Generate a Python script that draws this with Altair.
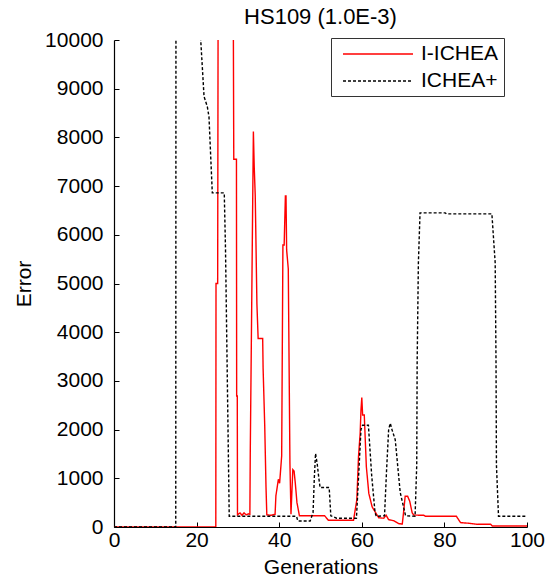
import altair as alt
import pandas as pd

series = ["I-ICHEA", "ICHEA+"]

# values past the top of the axis (off-scale, clipped) are given as 10200
gen_ichea = [0, 24.65, 24.7, 25.1, 25.2, 28.9, 29.0, 29.65, 29.7, 29.85, 29.9, 30.5, 31.0, 31.5, 32.0, 32.5,
             32.9, 33.0, 33.3, 33.6, 33.75, 33.95, 34.2, 34.35, 34.6, 34.9, 36.0, 36.1, 36.5, 36.8, 37.0, 38.0,
             39.0, 39.2, 39.8, 40.1, 40.6, 40.9, 41.2, 41.5, 41.65, 41.8, 42.2, 42.6, 42.85, 43.0, 43.3, 43.6,
             43.9, 44.3, 44.9, 51.0, 51.9, 58.0, 58.8, 59.2, 59.6, 59.8, 60.0, 60.2, 60.6, 61.1, 61.7, 62.5,
             63.3, 64.1, 65.3, 65.9, 66.5, 67.7, 68.9, 69.8, 70.1, 70.5, 71.1, 71.6, 72.2, 72.6, 75.0, 75.4,
             82.9, 83.9, 85.5, 88.0, 91.2, 91.6, 100]
err_ichea = [0, 0, 5000, 5000, 10200, 10200, 7550, 7550, 2690, 2690, 250, 290, 240, 290, 250, 270,
             260, 1580, 4180, 6820, 8120, 7400, 6800, 5970, 4590, 3870, 3870, 3270, 2070, 840, 250, 240,
             260, 640, 980, 900, 1460, 5790, 5790, 6800, 6800, 5690, 5300, 1310, 260, 570, 1180, 1150,
             900, 500, 230, 230, 140, 140, 560, 1440, 1920, 2400, 2660, 2300, 2300, 1240, 690, 415,
             300, 190, 180, 240, 150, 130, 70, 60, 290, 630, 630, 530, 290, 245, 240, 220,
             220, 90, 80, 55, 55, 20, 20]

gen_plus = [0, 14.95, 15.0, 20.95, 21.0, 21.8, 22.6, 23.0, 23.8, 26.7, 27.0, 27.9, 44.2, 44.5, 47.5,
            48.2, 48.5, 48.8, 49.2, 49.6, 49.9, 52.1, 52.5, 53.9, 58.7, 59.2, 59.8, 60.2, 61.6, 62.4,
            63.2, 63.5, 65.5, 66.0, 66.5, 66.9, 67.3, 68.1, 69.3, 70.6, 72.9, 73.3, 73.4, 73.7, 74.1,
            80.2, 80.5, 91.5, 92.3, 92.5, 92.6, 93.1, 100]
err_plus = [0, 0, 10200, 10200, 10000, 8840, 8630, 8420, 6860, 6860, 5700, 220, 220, 123, 123,
            300, 1000, 1510, 1300, 1000, 810, 810, 230, 180, 180, 1000, 2000, 2090, 2090, 1050,
            300, 220, 230, 1170, 2000, 2130, 2000, 1790, 710, 230, 220, 1270, 3360, 5420, 6450,
            6450, 6430, 6430, 5420, 3360, 1270, 220, 220]

x_ticks = [0, 20, 40, 60, 80, 100]
y_ticks = [0, 1000, 2000, 3000, 4000, 5000, 6000, 7000, 8000, 9000, 10000]

df = pd.concat([
    pd.DataFrame({"gen": gen_ichea, "err": err_ichea, "alg": series[0],
                  "ord": list(range(len(gen_ichea)))}),
    pd.DataFrame({"gen": gen_plus, "err": err_plus, "alg": series[1],
                  "ord": list(range(len(gen_plus)))}),
])

W, H = 413, 487
FONT = "Liberation Sans"
FS = 21
PADLABEL = "datum.label + '\u00a0\u00a0\u00a0\u00a0\u00a0'"

xscale = alt.Scale(domain=[0, 100], nice=False, zero=False)
yscale = alt.Scale(domain=[0, 10000], nice=False)

base = alt.Chart(df)

lines = base.mark_line(clip=True, strokeWidth=1.4).encode(
    x=alt.X("gen:Q", scale=xscale,
            axis=alt.Axis(values=x_ticks, title="Generations", tickSize=0, labelPadding=2,
                          labelFlush=False, titlePadding=6, grid=False, domainColor="black",
                          domainWidth=1.2)),
    y=alt.Y("err:Q", scale=yscale,
            axis=alt.Axis(values=y_ticks, format="d", title="Error", tickSize=0, labelPadding=11,
                          labelFlush=False, titlePadding=10, grid=False, domainColor="black",
                          domainWidth=1.2)),
    color=alt.Color("alg:N", scale=alt.Scale(domain=series, range=["#ff0000", "#000000"]),
                    legend=alt.Legend(title=None, labelExpr=PADLABEL)),
    strokeDash=alt.StrokeDash("alg:N", scale=alt.Scale(domain=series, range=[[1, 0], [3, 2]]),
                              legend=alt.Legend(title=None, labelExpr=PADLABEL)),
    order="ord:Q",
)

ticks = base.mark_line(opacity=0).encode(
    x=alt.X("gen:Q", scale=xscale,
            axis=alt.Axis(values=x_ticks, orient="top", offset=-H, labels=False, domain=False,
                          tickSize=5, tickColor="black", title=None, grid=False)),
    y=alt.Y("err:Q", scale=yscale,
            axis=alt.Axis(values=y_ticks, orient="right", offset=-W, labels=False, domain=False,
                          tickSize=5, tickColor="black", title=None, grid=False)),
)

chart = alt.layer(lines, ticks).resolve_axis(x="independent", y="independent").properties(
    width=W, height=H,
    autosize=alt.AutoSizeParams(type="none"),
    padding={"left": 114, "top": 40, "right": 19, "bottom": 54},
    title=alt.TitleParams("HS109 (1.0E-3)", font=FONT, fontSize=22, fontWeight="normal",
                          color="black", anchor="middle", frame="group", baseline="alphabetic",
                          offset=4, dy=21),
).configure_view(stroke=None).configure_axis(
    labelFont=FONT, labelFontSize=FS, labelColor="black",
    titleFont=FONT, titleFontSize=FS, titleFontWeight="normal", titleColor="black",
).configure_legend(
    orient="none", legendX=217, legendY=-2,
    strokeColor="#333333", fillColor="white", padding=5,
    symbolType="M-1,0H6", symbolSize=400, symbolStrokeWidth=1.4, symbolOffset=6,
    labelFont=FONT, labelFontSize=FS, labelColor="black", labelOffset=57,
    rowPadding=6,
)

chart.save("out.html", embed_options={"renderer": "svg", "actions": False})
